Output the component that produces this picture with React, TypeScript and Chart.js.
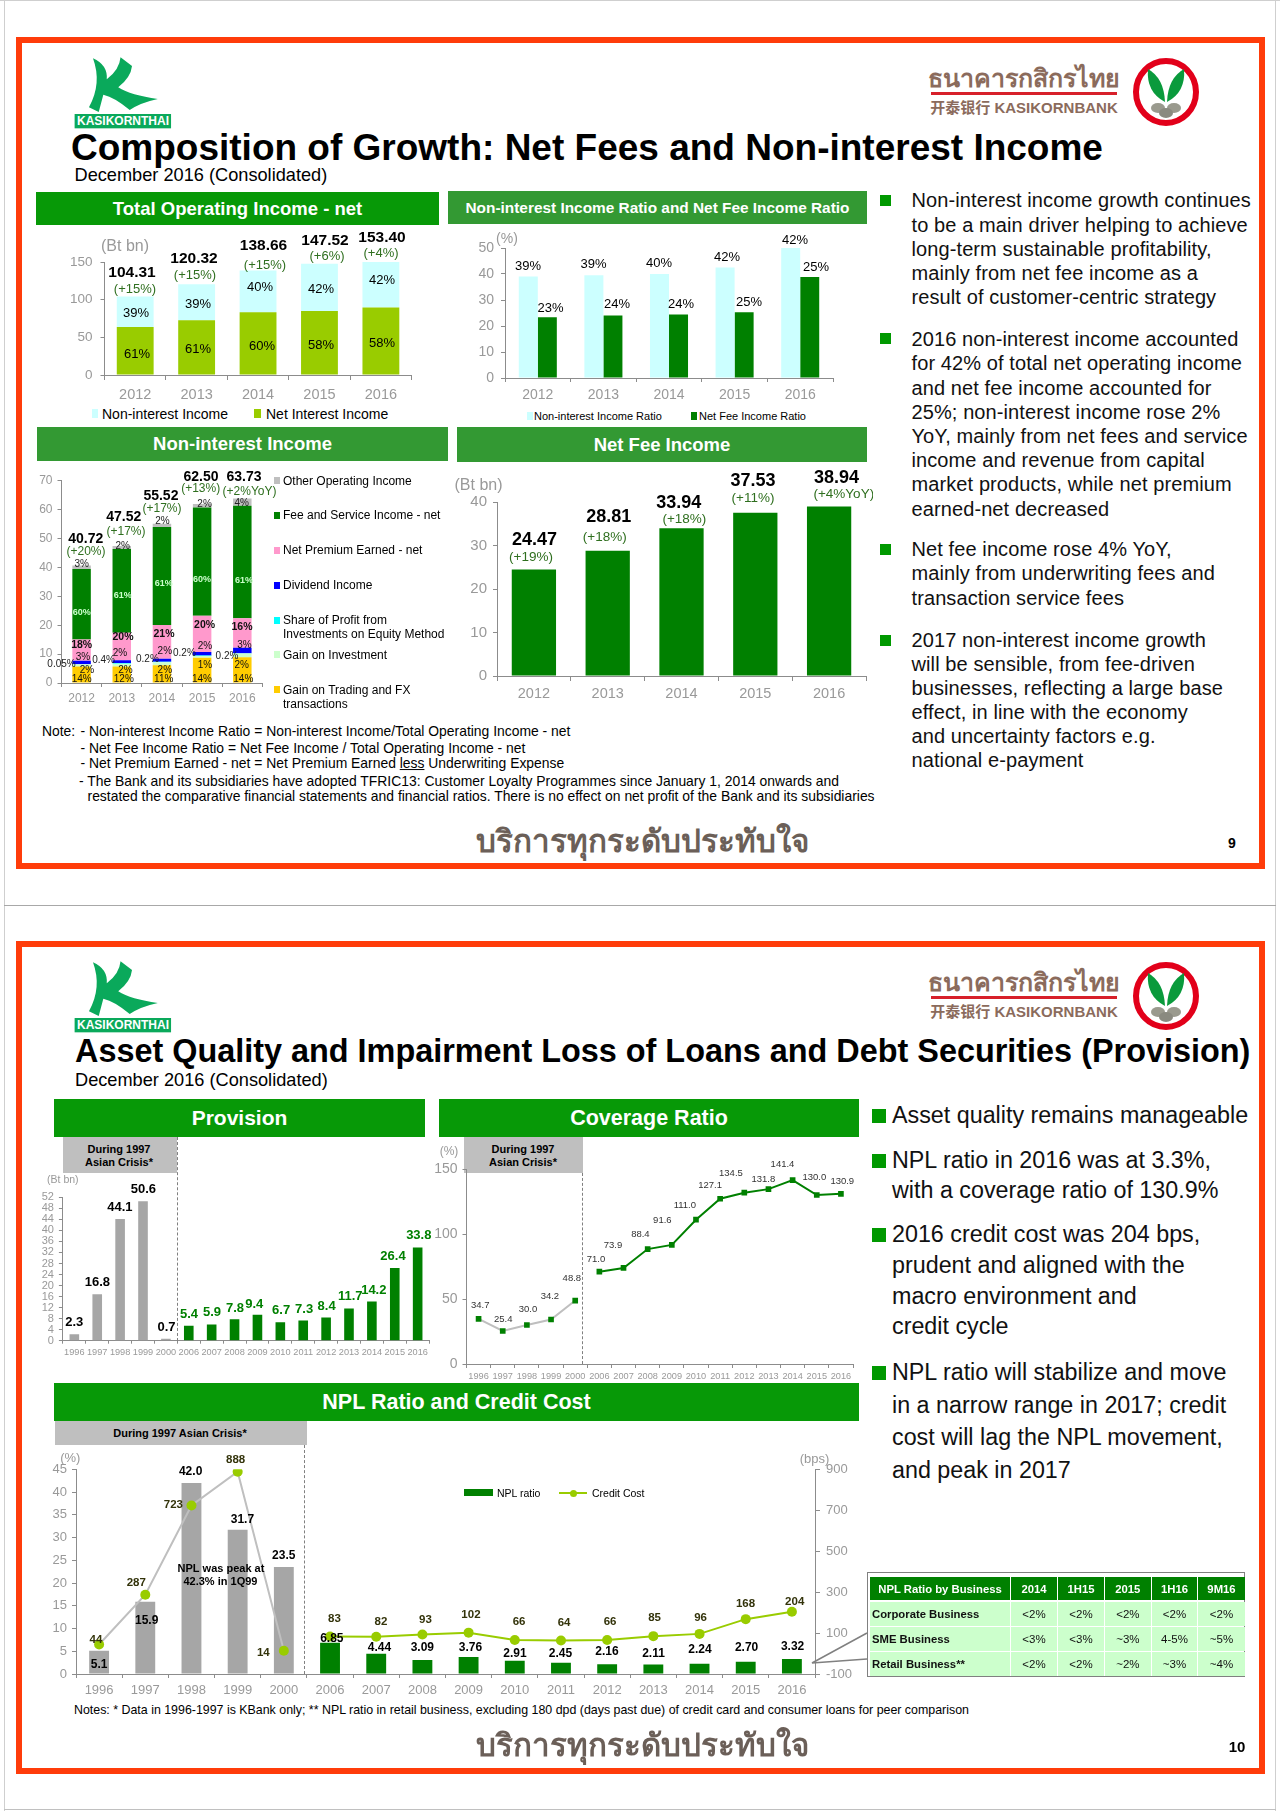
import React, { useEffect, useRef } from 'react';
import { Chart, registerables } from 'chart.js';
Chart.register(...registerables);

const FONT = '"Liberation Sans", Arial, sans-serif';
Chart.defaults.font.family = FONT;

// ---------- data ----------
const years5 = ['2012', '2013', '2014', '2015', '2016'];
const nonInterestIncome = [40.72, 47.52, 55.52, 62.5, 63.73];
const netInterestIncome = [63.59, 72.8, 83.14, 85.02, 89.67];
const totalLabels = ['104.31', '120.32', '138.66', '147.52', '153.40'];
const totalGrowth = ['(+15%)', '(+15%)', '(+15%)', '(+6%)', '(+4%)'];
const nonIntShare = ['39%', '39%', '40%', '42%', '42%'];
const netIntShare = ['61%', '61%', '60%', '58%', '58%'];

const nonIntRatioBars = [39, 39.5, 40, 42.5, 50];
const netFeeRatioBars = [23.4, 24, 24.4, 25.3, 38.8];
const nonIntRatioLabels = ['39%', '39%', '40%', '42%', '42%'];
const netFeeRatioLabels = ['23%', '24%', '24%', '25%', '25%'];

const trading = [5.7, 5.7, 6.1, 8.75, 8.9];
const investment = [0.8, 1.0, 1.1, 0.6, 1.3];
const shareProfit = [0.02, 0.19, 0.11, 0.13, 0.13];
const dividend = [1.2, 1.0, 1.1, 1.25, 1.9];
const premium = [7.3, 9.5, 11.7, 12.5, 10.2];
const feeService = [24.4, 29, 33.9, 37.5, 38.9];
const otherIncome = [1.2, 1.0, 1.1, 1.25, 2.5];
const nonIntTotals = ['40.72', '47.52', '55.52', '62.50', '63.73'];
const nonIntGrowth = ['(+20%)', '(+17%)', '(+17%)', '(+13%)', '(+2%YoY)'];
const otherPct = ['3%', '2%', '2%', '2%', '4%'];
const feePct = ['60%', '61%', '61%', '60%', '61%'];
const premiumPct = ['18%', '20%', '21%', '20%', '16%'];
const dividendPct = ['3%', '2%', '2%', '2%', '3%'];
const sharePct = ['0.05%', '0.4%', '0.2%', '0.2%', '0.2%'];
const investmentPct = ['2%', '2%', '2%', '1%', '2%'];
const tradingPct = ['14%', '12%', '11%', '14%', '14%'];

const netFee = [24.47, 28.81, 33.94, 37.53, 38.94];
const netFeeLabels = ['24.47', '28.81', '33.94', '37.53', '38.94'];
const netFeeGrowth = ['(+19%)', '(+18%)', '(+18%)', '(+11%)', '(+4%YoY)'];

const years16 = ['1996', '1997', '1998', '1999', '2000', '2006', '2007', '2008', '2009', '2010', '2011', '2012', '2013', '2014', '2015', '2016'];
const provision = [2.3, 16.8, 44.1, 50.6, 0.7, 5.4, 5.9, 7.8, 9.4, 6.7, 7.3, 8.4, 11.7, 14.2, 26.4, 33.8];
const coverageCrisis = [34.7, 25.4, 30.0, 34.2, 48.8, null, null, null, null, null, null, null, null, null, null, null];
const coverageRecent = [null, null, null, null, null, 71.0, 73.9, 88.4, 91.6, 111.0, 127.1, 131.8, 134.5, 141.4, 130.0, 130.9];
const coverageLabels = ['34.7', '25.4', '30.0', '34.2', '48.8', '71.0', '73.9', '88.4', '91.6', '111.0', '127.1', '134.5', '131.8', '141.4', '130.0', '130.9'];
const nplRatio = [5.1, 15.9, 42.0, 31.7, 23.5, 6.85, 4.44, 3.09, 3.76, 2.91, 2.45, 2.16, 2.11, 2.24, 2.7, 3.32];
const nplLabels = ['5.1', '15.9', '42.0', '31.7', '23.5', '6.85', '4.44', '3.09', '3.76', '2.91', '2.45', '2.16', '2.11', '2.24', '2.70', '3.32'];
const creditCrisis = [44, 287, 723, 888, 14, null, null, null, null, null, null, null, null, null, null, null];
const creditRecent = [null, null, null, null, null, 83, 82, 93, 102, 66, 64, 66, 85, 96, 168, 204];
const tableHead = ['NPL Ratio by Business', '2014', '1H15', '2015', '1H16', '9M16'];
const tableRows = [
  ['Corporate Business', '<2%', '<2%', '<2%', '<2%', '<2%'],
  ['SME Business', '<3%', '<3%', '~3%', '4-5%', '~5%'],
  ['Retail Business**', '<2%', '<2%', '~2%', '~3%', '~4%'],
];

// ---------- label layout (page pixels) ----------
const GREY = '#999999', GREEN = '#008000', DKG = '#2f6f1f', OLIVE = '#33330a', AXIS = '#8c8c8c';
const z3 = (p) => p.map(([x, y]) => [x / 1.823 + 20, y / 3 + 1090]);
const z4 = (p) => p.map(([x, y]) => [x / 1.912 + 40, y / 3 + 1400]);

const lab = (texts, pos, font, color) => texts.map((text, i) => ({ text: String(text), x: pos[i][0], y: pos[i][1], font, color }));
const b = (s) => `bold ${s}px ${FONT}`;
const n = (s) => `${s}px ${FONT}`;

const chart1Labels = [
  ...lab(totalLabels, [[132, 273], [194, 259], [263.5, 246], [325, 241], [382, 238]], b(15.5), '#000'),
  ...lab(totalGrowth, [[135, 289], [195, 275], [265, 265], [327, 256], [381, 253]], n(13), DKG),
  ...lab(nonIntShare, [[136, 313], [198, 304], [260, 287], [321, 289], [382, 280]], n(13), '#000'),
  ...lab(netIntShare, [[137, 354], [198, 349], [262, 346], [321, 345], [382, 343]], n(13), '#000'),
  { text: '(Bt bn)', x: 125, y: 247, font: n(16), color: GREY },
];
const chart2Labels = [
  ...lab(nonIntRatioLabels, [[528, 266], [593.6, 264], [659, 263], [727, 257], [795, 240]], n(13), '#000'),
  ...lab(netFeeRatioLabels, [[550.5, 308], [617, 304], [681, 304], [749, 302], [816, 267]], n(13), '#000'),
  { text: '(%)', x: 507, y: 239, font: n(14), color: GREY },
];
const chart3Labels = [
  ...lab(nonIntTotals, [[85.7, 539], [123.8, 516.7], [160.9, 496], [201, 476.7], [244, 477]], b(14), '#000'),
  ...lab(nonIntGrowth, [[86, 552], [126, 532], [162, 509], [200.7, 489], [249.5, 492]], n(12), DKG),
  ...lab(otherPct, [[81.7, 564], [122.7, 546.7], [162.5, 521.7], [204.6, 504], [241.7, 503]], n(10), '#222'),
  ...lab(feePct, [[81.7, 613], [122.7, 596], [163.7, 584], [202, 580], [244, 580.7]], b(9), '#ccffcc'),
  ...lab(premiumPct, [[81.7, 645], [123, 637], [164, 633.7], [204.6, 625], [242, 627]], b(10.5), '#111'),
  ...lab(dividendPct, [[83, 657], [120, 653], [164.8, 651], [205, 646], [244.5, 645]], n(10), '#111'),
  ...lab(sharePct, [[61.5, 664.7], [103.6, 660], [147.4, 659.7], [184.4, 653], [227, 656.7]], n(10), '#222'),
  ...lab(investmentPct, [[87, 670.7], [125.5, 670], [164.8, 670], [205, 665], [241.7, 665]], n(10), '#111'),
  ...lab(tradingPct, [[81.7, 679], [123.8, 679], [163.7, 679], [202, 679], [243.3, 679]], n(10), '#111'),
];
const chart4Labels = [
  ...lab(netFeeLabels, [[534.6, 540], [608.7, 517], [678.8, 503], [753, 480.7], [836.5, 477.7]], b(18), '#000'),
  ...lab(netFeeGrowth, [[531, 557.7], [604.7, 537.7], [684.4, 519.3], [753, 498], [843.8, 494]], n(13.5), DKG),
  { text: '(Bt bn)', x: 478.5, y: 486, font: n(16), color: GREY },
];
const provisionPos = z3([[99, 698], [141, 578], [182, 352], [225, 297], [267, 712], [308, 673], [350, 668], [392, 654], [427, 642], [476, 662], [518, 657], [559, 650], [602, 620], [645, 600], [680, 498], [727, 437]]);
const chart5Labels = [
  ...provision.map((v, i) => ({ text: v.toFixed(1), x: provisionPos[i][0], y: provisionPos[i][1], font: b(13), color: i < 5 ? '#000' : GREEN })),
  { text: '(Bt bn)', x: 62.8, y: 1180, font: n(10.5), color: GREY },
];
const chart6Labels = [
  ...lab(coverageLabels, z3([[839, 647], [881, 687], [926, 658], [966, 620], [1006, 565], [1050, 508], [1081, 467], [1131, 433], [1171, 390], [1212, 345], [1258, 285], [1296, 251], [1355, 267], [1390, 224], [1448, 263], [1499, 274]]), n(9.5), '#333'),
  { text: '(%)', x: 449, y: 1152, font: n(12), color: GREY },
];
const creditAll = [...creditCrisis.slice(0, 5), ...creditRecent.slice(5)];
const chart7Labels = [
  ...lab(creditAll, z4([[107, 720], [184, 549], [255, 315], [374, 179], [427, 759], [563, 656], [652, 664], [737, 658], [824, 645], [916, 666], [1002, 669], [1090, 666], [1175, 654], [1263, 652], [1349, 611], [1443, 606]]), b(11.5), OLIVE),
  ...lab(nplLabels, z4([[113, 794], [204, 662], [288, 216], [387, 358], [466, 468], [558, 717], [649, 743], [731, 742], [823, 743], [908, 762], [995, 762], [1084, 755], [1173, 762], [1262, 749], [1351, 742], [1439, 739]]), b(12), '#000'),
  ...lab(['NPL was peak at', '42.3% in 1Q99'], z4([[346, 508], [345, 547]]), b(11), '#000'),
  ...lab(['(%)', '(bps)'], z4([[58, 175], [1481, 179]]), n(13), GREY),
];

// ---------- chart helpers ----------
const pageLabels = {
  id: 'pageLabels',
  afterDatasetsDraw(chart, _a, opts) {
    const { ctx } = chart;
    ctx.save();
    ctx.textAlign = 'center';
    ctx.textBaseline = 'middle';
    (opts.items || []).forEach((t) => {
      ctx.font = t.font;
      ctx.fillStyle = t.color;
      ctx.fillText(t.text, t.x - opts.ox, t.y - opts.oy);
    });
    ctx.restore();
  },
};
Chart.register(pageLabels);

function opts(box, plot, c) {
  const o: any = {
    responsive: false,
    animation: false,
    layout: { padding: { left: 0, top: plot.t - box.y, right: c.y1 ? 0 : box.x + box.w - plot.r, bottom: 0 } },
    plugins: {
      legend: { display: false },
      tooltip: { enabled: false },
      pageLabels: { items: c.items, ox: box.x, oy: box.y },
    },
    scales: {
      x: {
        stacked: !!c.stacked,
        offset: true,
        afterFit: (s) => { s.height = box.y + box.h - plot.b; },
        border: { color: AXIS },
        grid: { offset: true, drawOnChartArea: false, tickLength: c.tick, color: AXIS },
        ticks: { color: GREY, font: { size: c.xSize }, padding: c.xPad, autoSkip: false, maxRotation: 0, minRotation: 0 },
      },
      y: {
        stacked: !!c.stacked,
        min: c.min,
        max: c.max,
        afterFit: (s) => { s.width = plot.l - box.x; },
        border: { color: AXIS },
        grid: { drawOnChartArea: false, tickLength: 4, color: AXIS },
        ticks: { stepSize: c.step, color: GREY, font: { size: c.ySize }, padding: c.yPad, autoSkip: false },
      },
    },
  };
  if (c.y1) {
    o.scales.y1 = {
      position: 'right',
      min: c.y1.min,
      max: c.y1.max,
      afterFit: (s) => { s.width = box.x + box.w - plot.r; },
      border: { color: AXIS },
      grid: { drawOnChartArea: false, tickLength: 5, color: AXIS },
      ticks: { stepSize: c.y1.step, color: GREY, font: { size: 13 }, padding: 6 },
    };
  }
  return o;
}

function ChartBox({ box, build }) {
  const ref = useRef(null);
  useEffect(() => {
    const chart = new Chart(ref.current, build());
    return () => chart.destroy();
  }, []);
  return <canvas ref={ref} width={box.w} height={box.h} style={{ position: 'absolute', left: box.x, top: box.y, width: box.w, height: box.h }} />;
}

const bar = (label, data, backgroundColor, extra = {}) => ({ type: 'bar', label, data, backgroundColor, borderWidth: 0, ...extra });

// ---------- chart configs ----------
const box1 = { x: 60, y: 228, w: 378, h: 176 }, plot1 = { l: 104.5, t: 262, r: 411.6, b: 375 };
const cfg1 = () => ({
  type: 'bar',
  data: { labels: years5, datasets: [
    bar('Net Interest Income', netInterestIncome, '#99cc00', { barPercentage: 0.6, categoryPercentage: 1 }),
    bar('Non-interest Income', nonInterestIncome, '#ccffff', { barPercentage: 0.6, categoryPercentage: 1 }),
  ] },
  options: opts(box1, plot1, { items: chart1Labels, stacked: true, min: 0, max: 150, step: 50, xSize: 14.5, ySize: 13.5, xPad: 6, yPad: 8, tick: 5 }),
});
const box2 = { x: 460, y: 228, w: 405, h: 180 }, plot2 = { l: 505, t: 248, r: 833, b: 378 };
const cfg2 = () => ({
  type: 'bar',
  data: { labels: years5, datasets: [
    bar('Non-interest Income Ratio', nonIntRatioBars, '#ccffff', { barPercentage: 1, categoryPercentage: 0.58 }),
    bar('Net Fee Income Ratio', netFeeRatioBars, GREEN, { barPercentage: 1, categoryPercentage: 0.58 }),
  ] },
  options: opts(box2, plot2, { items: chart2Labels, min: 0, max: 50, step: 10, xSize: 14, ySize: 14, xPad: 5, yPad: 7, tick: 4 }),
});
const box3 = { x: 36, y: 465, w: 245, h: 240 }, plot3 = { l: 61.5, t: 480.7, r: 262.4, b: 683 };
const stack3 = (l, d, col) => bar(l, d, col, { barPercentage: 0.46, categoryPercentage: 1 });
const cfg3 = () => ({
  type: 'bar',
  data: { labels: years5, datasets: [
    stack3('Gain on Trading and FX transactions', trading, '#ffcc00'),
    stack3('Gain on Investment', investment, '#ccffcc'),
    stack3('Share of Profit from Investments on Equity Method', shareProfit, '#00ffff'),
    stack3('Dividend Income', dividend, '#0000ff'),
    stack3('Net Premium Earned - net', premium, '#ff99cc'),
    stack3('Fee and Service Income - net', feeService, GREEN),
    stack3('Other Operating Income', otherIncome, '#bfbfbf'),
  ] },
  options: opts(box3, plot3, { items: chart3Labels, stacked: true, min: 0, max: 70, step: 10, xSize: 12, ySize: 12, xPad: 4, yPad: 5, tick: 4 }),
});
const box4 = { x: 455, y: 466, w: 418, h: 240 }, plot4 = { l: 497, t: 502, r: 866, b: 676 };
const cfg4 = () => ({
  type: 'bar',
  data: { labels: years5, datasets: [bar('Net Fee Income', netFee, GREEN, { barPercentage: 0.6, categoryPercentage: 1 })] },
  options: opts(box4, plot4, { items: chart4Labels, min: 0, max: 40, step: 10, xSize: 14.5, ySize: 15, xPad: 4, yPad: 6, tick: 5 }),
});
const crisisColors = (a, c) => years16.map((_, i) => (i < 5 ? a : c));
const box5 = { x: 36, y: 1172, w: 402, h: 190 }, plot5 = { l: 62.9, t: 1197.3, r: 429.1, b: 1340.7 };
const cfg5 = () => ({
  type: 'bar',
  data: { labels: years16, datasets: [bar('Provision', provision, crisisColors('#a6a6a6', GREEN), { barPercentage: 0.42, categoryPercentage: 1 })] },
  options: opts(box5, plot5, { items: chart5Labels, min: 0, max: 52, step: 4, xSize: 9.2, ySize: 11, xPad: 3, yPad: 5, tick: 3 }),
});
const box6 = { x: 430, y: 1140, w: 428, h: 244 }, plot6 = { l: 466.5, t: 1169, r: 853, b: 1364 };
const linePts = (label, data, borderColor, pointStyle, radius, fill) => ({ type: 'line', label, data, borderColor, borderWidth: 2, pointStyle, pointRadius: radius, pointBackgroundColor: fill, pointBorderColor: fill, pointBorderWidth: 0, tension: 0, spanGaps: false });
const cfg6 = () => ({
  type: 'line',
  data: { labels: years16, datasets: [
    linePts('Coverage (crisis)', coverageCrisis, '#bfbfbf', 'rect', 4, GREEN),
    linePts('Coverage', coverageRecent, GREEN, 'rect', 4, GREEN),
  ] },
  options: opts(box6, plot6, { items: chart6Labels, min: 0, max: 150, step: 50, xSize: 9.2, ySize: 14, xPad: 3, yPad: 5, tick: 4 }),
});
const box7 = { x: 44, y: 1446, w: 815, h: 254 }, plot7 = { l: 76, t: 1469.3, r: 815, b: 1674 };
const cfg7 = () => ({
  type: 'bar',
  data: { labels: years16, datasets: [
    { ...linePts('Credit Cost (crisis)', creditCrisis, '#bfbfbf', 'circle', 5, '#99cc00'), yAxisID: 'y1', order: 0 },
    { ...linePts('Credit Cost', creditRecent, '#99cc00', 'circle', 5, '#99cc00'), yAxisID: 'y1', order: 0 },
    bar('NPL ratio', nplRatio, crisisColors('#a6a6a6', GREEN), { barPercentage: 0.43, categoryPercentage: 1, order: 1 }),
  ] },
  options: opts(box7, plot7, { items: chart7Labels, min: 0, max: 45, step: 5, xSize: 13, ySize: 13, xPad: 5, yPad: 5, tick: 4, y1: { min: -100, max: 900, step: 200 } }),
});

// ---------- html helpers ----------
function T({ x, y, s = 14, c = '#000', w = 400, a = 'left', sp = 0, f = FONT, children }: any) {
  const tx = a === 'center' ? '-50%' : a === 'right' ? '-100%' : '0';
  return <div style={{ position: 'absolute', left: x, top: y, transform: `translate(${tx},-50%)`, whiteSpace: 'nowrap', fontFamily: f, fontSize: s, color: c, fontWeight: w, letterSpacing: sp, lineHeight: 1 }}>{children}</div>;
}
const R = ({ x, y, w, h, c, st = {} }: any) => <div style={{ position: 'absolute', left: x, top: y, width: w, height: h, background: c, ...st }} />;

function Header({ x, y, w, h, c, s, children }: any) {
  return (
    <div style={{ position: 'absolute', left: x, top: y, width: w, height: h, background: c, color: '#fff', fontFamily: FONT, fontWeight: 700, fontSize: s, display: 'flex', alignItems: 'center', justifyContent: 'center', whiteSpace: 'nowrap' }}>{children}</div>
  );
}

function Logos({ dy }: any) {
  return (
    <>
      <svg style={{ position: 'absolute', left: 0, top: dy }} width={900} height={140} viewBox="0 0 1568 420" preserveAspectRatio="none">
        <path fill="#0aa95b" d="M162,175 Q188,195 186,238 Q208,210 210,172 L230,198 Q228,232 206,262 Q228,286 275,297 Q245,308 226,330 Q200,292 180,284 L172,336 L155,322 Q178,250 162,175 Z" />
        <rect x="130" y="342" width="168" height="43" fill="#0aa95b" />
      </svg>
      <T x={123} y={121 + dy} s={12} c="#fff" w={700} a="center">KASIKORNTHAI</T>
      <T x={1024} y={77 + dy} s={25} c="#8b6b5c" w={700} a="center" f='"Noto Sans", "DejaVu Sans", sans-serif'>ธนาคารกสิกรไทย</T>
      <R x={931} y={92 + dy} w={186} h={3} c="#d7202a" />
      <T x={1024} y={107 + dy} s={15} c="#8b6b5c" w={700} a="center" f={`${FONT}, "Noto Sans CJK SC"`}>开泰银行 KASIKORNBANK</T>
      <svg style={{ position: 'absolute', left: 1128, top: 54 + dy }} width={76} height={76} viewBox="0 0 76 76">
        <ellipse cx="38" cy="38" rx="30" ry="31" fill="#fff" stroke="#e2001a" strokeWidth="6" />
        <path fill="#0a9a3c" d="M37,48 Q18,38 20,15 Q36,24 37,48 Z" />
        <path fill="#0a9a3c" d="M39,48 Q58,38 56,15 Q40,24 39,48 Z" />
        <ellipse cx="30" cy="54" rx="7" ry="5" fill="#9a9a8e" />
        <ellipse cx="46" cy="54" rx="7" ry="5" fill="#9a9a8e" />
        <ellipse cx="38" cy="59" rx="7" ry="5" fill="#8a8a80" />
      </svg>
    </>
  );
}

const sloganFont = '"Noto Sans", "DejaVu Sans", "Liberation Sans", sans-serif';
const Bullet = ({ x, y, s = 11 }: any) => <R x={x} y={y - s / 2} w={s} h={s} c="#009900" />;

const bullets1 = [
  [['Non-interest income growth continues', 200], ['to be a main driver helping to achieve', 224.5], ['long-term sustainable profitability,', 248.5], ['mainly from net fee income as a', 272.5], ['result of customer-centric strategy', 297]],
  [['2016 non-interest income accounted', 338.5], ['for 42% of total net operating income', 363], ['and net fee income accounted for', 387.5], ['25%; non-interest income rose 2%', 411.5], ['YoY, mainly from net fees and service', 436], ['income and revenue from capital', 460], ['market products, while net premium', 484], ['earned-net decreased', 508.5]],
  [['Net fee income rose 4% YoY,', 549], ['mainly from underwriting fees and', 573], ['transaction service fees', 597.5]],
  [['2017 non-interest income growth', 640], ['will be sensible, from fee-driven', 663.5], ['businesses, reflecting a large base', 688], ['effect, in line with the economy', 712], ['and uncertainty factors e.g.', 736], ['national e-payment', 760]],
];
const bullets2 = [
  [['Asset quality remains manageable', 1116]],
  [['NPL ratio in 2016 was at 3.3%,', 1161], ['with a coverage ratio of 130.9%', 1191]],
  [['2016 credit cost was 204 bps,', 1235], ['prudent and aligned with the', 1265.5], ['macro environment and', 1296.5], ['credit cycle', 1327]],
  [['NPL ratio will stabilize and move', 1373], ['in a narrow range in 2017; credit', 1406], ['cost will lag the NPL movement,', 1438], ['and peak in 2017', 1471]],
];

const legend3 = [
  ['#bfbfbf', 480.7, ['Other Operating Income']],
  [GREEN, 515.3, ['Fee and Service Income - net']],
  ['#ff99cc', 550, ['Net Premium Earned - net']],
  ['#0000ff', 585, ['Dividend Income']],
  ['#00ffff', 620, ['Share of Profit from', 'Investments on Equity Method']],
  ['#ccffcc', 654.7, ['Gain on Investment']],
  ['#ffcc00', 689.7, ['Gain on Trading and FX', 'transactions']],
];

const colX = [870, 1011, 1058, 1105, 1151.7, 1198.3];
const colW = [140, 46, 46, 45.7, 45.6, 46.4];

export default function App() {
  return (
    <div style={{ position: 'absolute', left: 0, top: 0, width: 1280, height: 1811, background: '#fff', overflow: 'hidden' }}>
      {/* page frames */}
      <R x={4} y={0} w={1} h={1811} c="#cfcfcf" />
      <R x={1275} y={0} w={1} h={1811} c="#cfcfcf" />
      <R x={0} y={0} w={1280} h={1} c="#cfcfcf" />
      <R x={4} y={905} w={1272} h={1} c="#a8a8a8" />
      <R x={4} y={1809} w={1272} h={1} c="#c0c0c0" />
      {/* slide borders */}
      <div style={{ position: 'absolute', left: 16, top: 37, width: 1249, height: 832, border: '6px solid #ff3c0a', boxSizing: 'border-box' }} />
      <div style={{ position: 'absolute', left: 16, top: 941, width: 1249, height: 833, border: '6px solid #ff3c0a', boxSizing: 'border-box' }} />

      {/* slide 1 */}
      <Logos dy={0} />
      <T x={71} y={147} s={37} w={700}>Composition of Growth: Net Fees and Non-interest Income</T>
      <T x={74.5} y={175} s={18.2}>December 2016 (Consolidated)</T>
      <Header x={36} y={192} w={403} h={33} c="#079907" s={18.5}>Total Operating Income - net</Header>
      <Header x={448} y={191} w={419} h={33} c="#339933" s={15.4}>Non-interest Income Ratio and Net Fee Income Ratio</Header>
      <Header x={37} y={427} w={411} h={34} c="#339933" s={18.5}>Non-interest Income</Header>
      <Header x={457} y={427} w={410} h={35} c="#339933" s={18.5}>Net Fee Income</Header>

      <ChartBox box={box1} build={cfg1} />
      <ChartBox box={box2} build={cfg2} />
      <ChartBox box={box3} build={cfg3} />
      <ChartBox box={box4} build={cfg4} />

      <R x={92} y={409} w={6} h={9} c="#ccffff" />
      <T x={102} y={414} s={14}>Non-interest Income</T>
      <R x={254} y={409} w={7} h={9} c="#99cc00" />
      <T x={266} y={414} s={14}>Net Interest Income</T>
      <R x={527} y={412} w={6} h={8} c="#ccffff" />
      <T x={534} y={416} s={11}>Non-interest Income Ratio</T>
      <R x={691} y={412} w={6} h={8} c={GREEN} />
      <T x={699} y={416} s={11}>Net Fee Income Ratio</T>

      {legend3.map(([c, y, lines]: any) => (
        <React.Fragment key={y}>
          <R x={274} y={y - 3.5} w={6} h={7} c={c} />
          {lines.map((l, i) => <T key={l} x={283} y={y + i * 14} s={12}>{l}</T>)}
        </React.Fragment>
      ))}

      <T x={42} y={732} s={13.9}>Note:</T>
      <T x={80.5} y={732} s={13.9}>- Non-interest Income Ratio = Non-interest Income/Total Operating Income - net</T>
      <T x={80.5} y={748.5} s={13.9}>- Net Fee Income Ratio = Net Fee Income / Total Operating Income - net</T>
      <T x={80.5} y={763.5} s={13.9}>- Net Premium Earned - net = Net Premium Earned <u>less</u> Underwriting Expense</T>
      <T x={79} y={782} s={13.9}>- The Bank and its subsidiaries have adopted TFRIC13: Customer Loyalty Programmes since January 1, 2014 onwards and</T>
      <T x={87.5} y={797} s={13.9}>restated the comparative financial statements and financial ratios. There is no effect on net profit of the Bank and its subsidiaries</T>

      {bullets1.map((g: any, i) => (
        <React.Fragment key={i}>
          <Bullet x={880} y={g[0][1]} />
          {g.map(([t, y]) => <T key={t} x={911.5} y={y} s={20} sp={0.1} c="#111">{t}</T>)}
        </React.Fragment>
      ))}
      <T x={642} y={841} s={31.3} c="#6b5f58" w={700} a="center" f={sloganFont}>บริการทุกระดับประทับใจ</T>
      <T x={1232} y={843} s={14} w={700} a="center">9</T>

      {/* slide 2 */}
      <Logos dy={904} />
      <T x={75} y={1051} s={32.4} w={700}>Asset Quality and Impairment Loss of Loans and Debt Securities (Provision)</T>
      <T x={75} y={1080} s={18.2}>December 2016 (Consolidated)</T>
      <Header x={54} y={1099} w={371} h={38} c="#079907" s={21}>Provision</Header>
      <Header x={439} y={1099} w={420} h={38} c="#079907" s={21.5}>Coverage Ratio</Header>
      <Header x={54} y={1383} w={805} h={38} c="#079907" s={21.5}>NPL Ratio and Credit Cost</Header>

      <R x={63} y={1137} w={114} h={36} c="#bfbfbf" />
      <T x={119} y={1149} s={11} w={700} a="center">During 1997</T>
      <T x={119} y={1162} s={11} w={700} a="center">Asian Crisis*</T>
      <R x={464} y={1137} w={119} h={36} c="#bfbfbf" />
      <T x={523} y={1149} s={11} w={700} a="center">During 1997</T>
      <T x={523} y={1162} s={11} w={700} a="center">Asian Crisis*</T>
      <R x={54.5} y={1421} w={252.5} h={24} c="#bfbfbf" />
      <T x={180} y={1433} s={11} w={700} a="center">During 1997 Asian Crisis*</T>

      <ChartBox box={box5} build={cfg5} />
      <ChartBox box={box6} build={cfg6} />
      <ChartBox box={box7} build={cfg7} />

      <div style={{ position: 'absolute', left: 177, top: 1137, height: 204, borderLeft: '1px dashed #808080' }} />
      <div style={{ position: 'absolute', left: 582, top: 1173, height: 191, borderLeft: '1px dashed #808080' }} />
      <div style={{ position: 'absolute', left: 304, top: 1445, height: 229, borderLeft: '1px dashed #808080' }} />

      <R x={464} y={1489} w={29} h={7} c={GREEN} />
      <T x={497} y={1493} s={10.5}>NPL ratio</T>
      <R x={559} y={1492} w={28} h={2} c="#99cc00" />
      <div style={{ position: 'absolute', left: 569.5, top: 1489.5, width: 7, height: 7, borderRadius: 4, background: '#99cc00' }} />
      <T x={592} y={1493} s={10.5}>Credit Cost</T>

      <T x={74} y={1710} s={12.4}>Notes: * Data in 1996-1997 is KBank only; ** NPL ratio in retail business, excluding 180 dpd (days past due) of credit card and consumer loans for peer comparison</T>

      {bullets2.map((g: any, i) => (
        <React.Fragment key={i}>
          <Bullet x={872} y={g[0][1]} s={13.5} />
          {g.map(([t, y]) => <T key={t} x={892} y={y} s={23.3} c="#111">{t}</T>)}
        </React.Fragment>
      ))}

      {/* NPL table */}
      <svg style={{ position: 'absolute', left: 0, top: 0, pointerEvents: 'none' }} width={1280} height={1811}>
        <path d="M867,1633 L812,1663 L867,1659" fill="#fff" stroke="#808080" strokeWidth="1.5" />
      </svg>
      <div style={{ position: 'absolute', left: 867, top: 1572, width: 378, height: 105, border: '1.5px solid #808080', boxSizing: 'border-box', background: '#fff' }} />
      {tableHead.map((h, i) => (
        <div key={h} style={{ position: 'absolute', left: colX[i], top: 1577, width: colW[i], height: 23, background: GREEN, color: '#fff', fontFamily: FONT, fontWeight: 700, fontSize: 11.3, display: 'flex', alignItems: 'center', justifyContent: 'center', whiteSpace: 'nowrap' }}>{h}</div>
      ))}
      {tableRows.map((row, r) => row.map((cell, i) => (
        <div key={r + '-' + i} style={{ position: 'absolute', left: colX[i], top: 1601.5 + r * 25, width: colW[i], height: 24, background: '#ccffcc', color: '#111', fontFamily: FONT, fontWeight: i === 0 ? 700 : 400, fontSize: i === 0 ? 11.3 : 11.5, display: 'flex', alignItems: 'center', justifyContent: i === 0 ? 'flex-start' : 'center', paddingLeft: 0, whiteSpace: 'nowrap' }}>
          <span style={{ marginLeft: i === 0 ? 2 : 0 }}>{cell}</span>
        </div>
      )))}
      <T x={642} y={1745} s={31.3} c="#6b5f58" w={700} a="center" f={sloganFont}>บริการทุกระดับประทับใจ</T>
      <T x={1237} y={1746} s={15} w={700} a="center">10</T>
    </div>
  );
}
